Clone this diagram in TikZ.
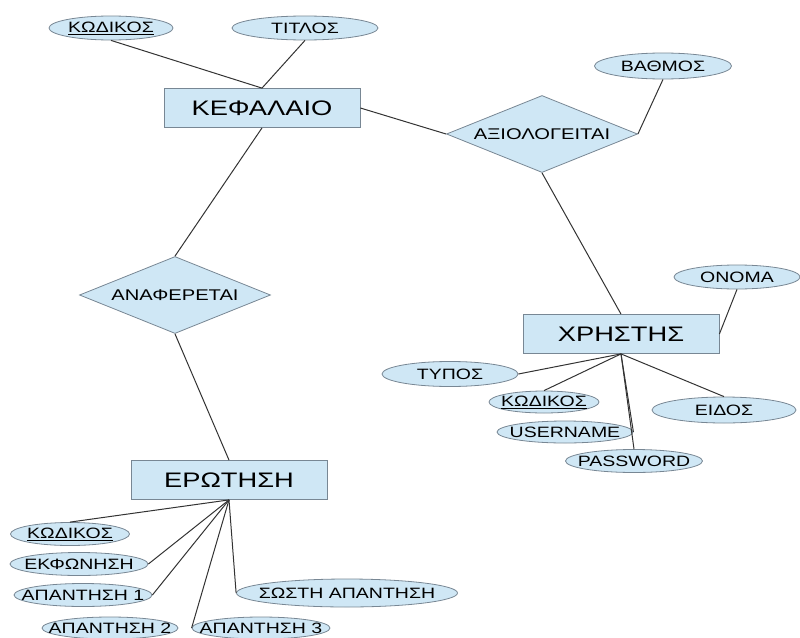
\documentclass[tikz,border=0pt]{standalone}
\usepackage{fontspec}
\setmainfont[FakeStretch=1.3]{Liberation Sans}
\usetikzlibrary{shapes.geometric}
\definecolor{erfill}{RGB}{207,231,245}
\definecolor{erline}{RGB}{120,135,148}

\begin{document}
\begin{tikzpicture}[x=1pt,y=-1pt,
    entity/.style={draw=erline,fill=erfill,line width=.8pt,minimum width=196pt,minimum height=39pt,
                   inner sep=0pt,font=\fontsize{21}{21}\selectfont},
    relation/.style={diamond,draw=erline,fill=erfill,line width=.8pt,aspect=2.5,minimum width=191pt,
                   minimum height=77pt,inner sep=0pt,font=\fontsize{15.5}{15.5}\selectfont},
    attrib/.style={ellipse,draw=erline,fill=erfill,line width=.8pt,minimum height=24pt,
                   inner xsep=-20pt,inner ysep=0pt,font=\fontsize{15}{15}\selectfont},
    link/.style={line width=1pt,black!80},
    ]
\useasboundingbox (0,0) rectangle (800,637);

%-------------------------------------------- Entities
\node[entity] (kef) at (262,108) {ΚΕΦΑΛΑΙΟ};
\node[entity] (xri) at (621,334) {ΧΡΗΣΤΗΣ};
\node[entity] (erw) at (229,480) {ΕΡΩΤΗΣΗ};

%-------------------------------------------- Relations
\node[relation] (axiol) at (542,134) {ΑΞΙΟΛΟΓΕΙΤΑΙ};
\node[relation] (anaf) at (175,295) {ΑΝΑΦΕΡΕΤΑΙ};

%-------------------------------------------- Attributes of ΚΕΦΑΛΑΙΟ
\node[attrib,minimum width=124pt] (kefkwd) at (111,28) {\underline{ΚΩΔΙΚΟΣ}};
\node[attrib,minimum width=146pt] (titlos) at (305,28) {ΤΙΤΛΟΣ};

% attribute of ΑΞΙΟΛΟΓΕΙΤΑΙ
\node[attrib,minimum width=137pt,minimum height=26pt] (bathmos) at (663,66) {ΒΑΘΜΟΣ};

%-------------------------------------------- Attributes of ΧΡΗΣΤΗΣ
\node[attrib,minimum width=126pt] (onoma) at (737,277) {ΟΝΟΜΑ};
\node[attrib,minimum width=136pt,minimum height=25pt] (typos) at (450,374) {ΤΥΠΟΣ};
\node[attrib,minimum width=110pt,minimum height=22pt] (xrikwd) at (544,402) {\underline{ΚΩΔΙΚΟΣ}};
\node[attrib,minimum width=136pt,minimum height=22pt] (user) at (565,432) {USERNAME};
\node[attrib,minimum width=137pt,minimum height=23pt] (pass) at (634,461) {PASSWORD};
\node[attrib,minimum width=144pt,minimum height=26pt] (eidos) at (724,410) {ΕΙΔΟΣ};

%-------------------------------------------- Attributes of ΕΡΩΤΗΣΗ
\node[attrib,minimum width=119pt,minimum height=23pt] (erwkwd) at (70,534) {\underline{ΚΩΔΙΚΟΣ}};
\node[attrib,minimum width=138pt,minimum height=23pt] (ekfon) at (79,564) {ΕΚΦΩΝΗΣΗ};
\node[attrib,minimum width=138pt,minimum height=23pt] (apan1) at (83,595) {ΑΠΑΝΤΗΣΗ 1};
\node[attrib,minimum width=136pt,minimum height=22pt] (apan2) at (110,628) {ΑΠΑΝΤΗΣΗ 2};
\node[attrib,minimum width=138pt,minimum height=22pt] (apan3) at (261,628) {ΑΠΑΝΤΗΣΗ 3};
\node[attrib,minimum width=221pt,minimum height=28pt] (swsti) at (347,593) {ΣΩΣΤΗ ΑΠΑΝΤΗΣΗ};

%-------------------------------------------- Links
\draw[link] (kefkwd.south) -- (kef.north);
\draw[link] (titlos.south) -- (kef.north);
\draw[link] (kef.east) -- (axiol.west);
\draw[link] (axiol.east) -- (bathmos.south);
\draw[link] (axiol.south) -- (xri.north);
\draw[link] (kef.south) -- (anaf.north);
\draw[link] (anaf.south) -- (erw.north);

\draw[link] (onoma.south) -- (xri.east);
\draw[link] (xri.south) -- (typos.east);
\draw[link] (xri.south) -- (xrikwd.north);
\draw[link] (xri.south) -- (user.east);
\draw[link] (xri.south) -- (pass.north);
\draw[link] (xri.south) -- (eidos.north);

\draw[link] (erw.south) -- (erwkwd.north);
\draw[link] (erw.south) -- (ekfon.east);
\draw[link] (erw.south) -- (apan1.east);
\draw[link] (erw.south) -- (apan3.west);
\draw[link] (erw.south) -- (swsti.west);

\end{tikzpicture}
\end{document}
